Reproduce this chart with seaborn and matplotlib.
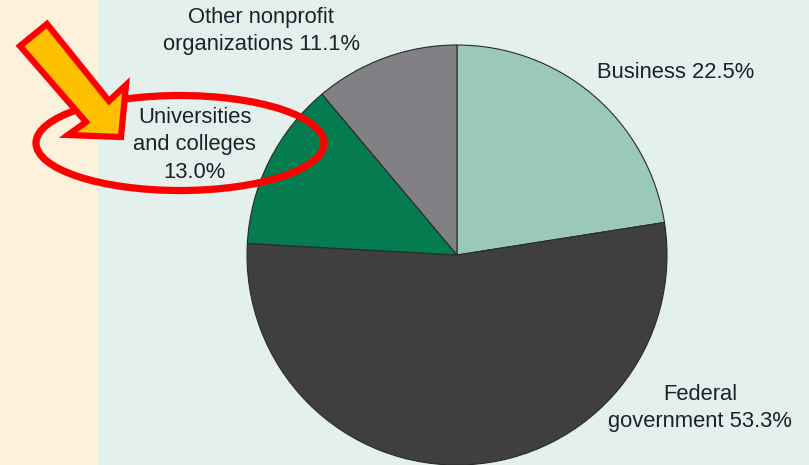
import matplotlib
matplotlib.use("Agg")
import matplotlib.pyplot as plt
from matplotlib.patches import Polygon, Ellipse, Rectangle
import seaborn as sns

# R&D funding by source
categories = ["Business", "Federal\ngovernment", "Universities\nand colleges", "Other nonprofit\norganizations"]
shares = [22.5, 53.3, 13.0, 11.1]
colors = ["#9bc9b9", "#3f3f42", "#057b50", "#808085"]
# label text layout: put the percentage on its own line or after the name
pct_on_new_line = [False, False, True, False]

sns.set_theme(style="white")
plt.rcParams["font.family"] = ["Liberation Sans", "DejaVu Sans"]

W, H = 809, 465
fig = plt.figure(figsize=(W / 100, H / 100), dpi=100)
fig.patch.set_facecolor("#e4f0eb")

# beige side strip
fig.add_artist(Rectangle((0, 0), 97 / W, 1, transform=fig.transFigure,
                         facecolor="#fdf1db", edgecolor="none", zorder=0))

cx, cy, r = 457, 255, 210
ax = fig.add_axes([(cx - r) / W, (H - cy - r) / H, 2 * r / W, 2 * r / H])
ax.set_facecolor("none")
ax.pie(shares, colors=colors, startangle=90, counterclock=False, radius=1,
       wedgeprops=dict(edgecolor="#2a2a2a", linewidth=0.8))
ax.set_xlim(-1, 1)
ax.set_ylim(-1, 1)
ax.set_aspect("equal")
ax.axis("off")

label_pos = [(1.043, 0.867), (1.157, -0.729), (-1.248, 0.524), (-0.933, 1.067)]
for name, v, nl, (lx, ly) in zip(categories, shares, pct_on_new_line, label_pos):
    txt = f"{name}\n{v:.1f}%" if nl else f"{name} {v:.1f}%"
    ax.text(lx, ly, txt, ha="center", va="center", fontsize=15.8,
            color="#1f1f2e", linespacing=1.42, clip_on=False)

# highlight overlay in pixel coordinates
ov = fig.add_axes([0, 0, 1, 1])
ov.set_xlim(0, W)
ov.set_ylim(H, 0)
ov.axis("off")
ov.set_facecolor("none")

ov.add_patch(Ellipse((180, 143), 288, 95, facecolor="none",
                     edgecolor="#ff0000", linewidth=5.2, zorder=3))
arrow = [(20, 46), (47, 24), (109, 101), (126, 85), (121, 137),
         (68, 135), (86, 122)]
ov.add_patch(Polygon(arrow, closed=True, facecolor="#ffc000",
                     edgecolor="#ff0000", linewidth=4.5, joinstyle="miter", zorder=4))

fig.savefig("out.png", dpi=100)
